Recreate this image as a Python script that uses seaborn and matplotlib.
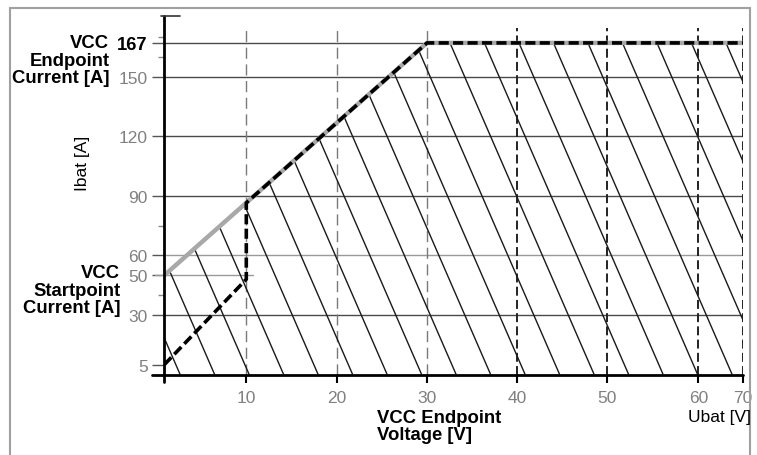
import numpy as np
import seaborn as sns
import matplotlib.pyplot as plt
from matplotlib.collections import LineCollection
from matplotlib.patches import Rectangle

# chart values
x_ticks = [10, 20, 30, 40, 50, 60, 70]
y_ticks = [5, 30, 50, 60, 90, 120, 150, 167]
y_minor = [40, 75, 160, 170]
# operating area boundary (grey) and VCC curve (black dashed)
x_bound = [0, 30, 70]
y_bound = [50, 167, 167]
x_vcc = [0, 10, 10, 30, 70]
y_vcc = [5, 48, 86.5, 167, 167]
# schematic (non linear) voltage axis: value -> pixel offset
x_knots = [0, 10, 20, 30, 40, 50, 60, 70]
x_pix = [0, 82, 172.4, 262.7, 353, 443, 534, 578.7]

sns.set_style('white')
plt.rcParams['font.family'] = ['Liberation Sans', 'DejaVu Sans']

W, H = 757, 456
fig = plt.figure(figsize=(W / 100, H / 100), dpi=100)
ax_l, ax_r, ax_t, ax_b = 164.3, 743, 17.3, 375.6
ax = fig.add_axes([ax_l / W, 1 - ax_b / H, (ax_r - ax_l) / W, (ax_b - ax_t) / H])
aw, ah = ax_r - ax_l, ax_b - ax_t


def fwd(v):
    return np.interp(v, x_knots, x_pix)


def inv(p):
    return np.interp(p, x_pix, x_knots)


ax.set_xscale('function', functions=(fwd, inv))
ax.set_xlim(0, 70)
ax.set_ylim(0, 180.4)
for s in ax.spines.values():
    s.set_visible(False)

# horizontal grid lines
for yv in [30, 90, 120, 150, 167]:
    ax.axhline(yv, color='#4a4a4a', lw=1.0, zorder=1)
ax.axhline(60, color='#9a9a9a', lw=1.0, zorder=1)
ax.axhline(50, xmin=-0.016, xmax=0.153, color='#9a9a9a', lw=1.0, zorder=1, clip_on=False)

# vertical dashed grid lines
ax.vlines([10, 20, 30], 0, 174.5, color='#7a7a7a', lw=1.0, linestyles=[(0, (8, 4))], zorder=1)
ax.vlines([40, 50, 60, 70], 0, 174.5, color='#222222', lw=1.4, linestyles=[(0, (4.6, 2.2))], zorder=1)

# hatched operating area
area = ax.fill_between(x_bound, y_bound, 0, facecolor='none', edgecolor='none', zorder=2)
segs = []
for k in range(-30, 30):
    p0 = 450 + (ax_t - 44) / 2.3 + k * 34.5
    p1 = 450 + (ax_b - 44) / 2.3 + k * 34.5
    segs.append([((p0 - ax_l) / aw, 1.0), ((p1 - ax_l) / aw, 0.0)])
hatch = LineCollection(segs, colors='#1a1a1a', linewidths=1.0, transform=ax.transAxes, zorder=2)
ax.add_collection(hatch)
hatch.set_clip_path(area.get_paths()[0], area.get_transform())

# boundary lines
sns.lineplot(x=x_bound, y=y_bound, sort=False, estimator=None, ax=ax,
             color='#a8a8a8', lw=3.2, zorder=3)
sns.lineplot(x=x_vcc, y=y_vcc, sort=False, estimator=None, ax=ax,
             color='black', lw=2.6, linestyle=(0, (2.8, 1.2)), zorder=4)

# axis lines
ax.plot([0, 0], [-0.02, 1], color='black', lw=2.0, transform=ax.transAxes, clip_on=False, zorder=5)
ax.plot([-0.021, 1], [0, 0], color='black', lw=2.0, transform=ax.transAxes, clip_on=False, zorder=5)
ax.plot([-0.006, 0.027], [1, 1], color='#333333', lw=1.2, transform=ax.transAxes, clip_on=False, zorder=5)

# ticks
ax.set_xticks(x_ticks)
ax.set_xticklabels([str(v) for v in x_ticks])
ax.set_yticks(y_ticks)
ax.set_yticklabels([str(v) for v in y_ticks])
ax.set_yticks(y_minor, minor=True)
ax.set_xticks([], minor=True)
ax.tick_params(axis='x', direction='out', length=6, width=1.5, color='black',
               labelsize=12.5, labelcolor='#808080', pad=5, bottom=True)
ax.tick_params(axis='y', which='major', direction='out', length=9, width=1.0, color='#555555',
               labelsize=12.5, labelcolor='#808080', pad=3, left=True)
ax.tick_params(axis='y', which='minor', direction='out', length=4, width=1.0, color='#888888', left=True)
lab167 = ax.get_yticklabels()[-1]
lab167.set_color('black')
lab167.set_fontweight('bold')
lab167.set_fontsize(13.3)

# annotations
bold = dict(fontsize=13.3, fontweight='bold', color='black', linespacing=1.05)
fig.text(109.5 / W, 1 - 61 / H, 'VCC\nEndpoint\nCurrent [A]', ha='right', va='center',
         multialignment='right', **bold)
fig.text(120.5 / W, 1 - 291 / H, 'VCC\nStartpoint\nCurrent [A]', ha='right', va='center',
         multialignment='right', **bold)
fig.text(376.7 / W, 1 - 427 / H, 'VCC Endpoint\nVoltage [V]', ha='left', va='center',
         multialignment='left', **bold)
fig.text(688.3 / W, 1 - 418 / H, 'Ubat [V]', ha='left', va='center', fontsize=12.5, color='black')
fig.text(82 / W, 1 - 163 / H, 'Ibat [A]', ha='center', va='center', rotation=90,
         fontsize=12.5, color='black')

# outer frame
fig.add_artist(Rectangle((10 / W, -0.02), 740 / W, 1.02 - 9 / H, transform=fig.transFigure,
                         fill=False, edgecolor='#a0a0a0', lw=1.5))

fig.savefig('out.png', dpi=100)
